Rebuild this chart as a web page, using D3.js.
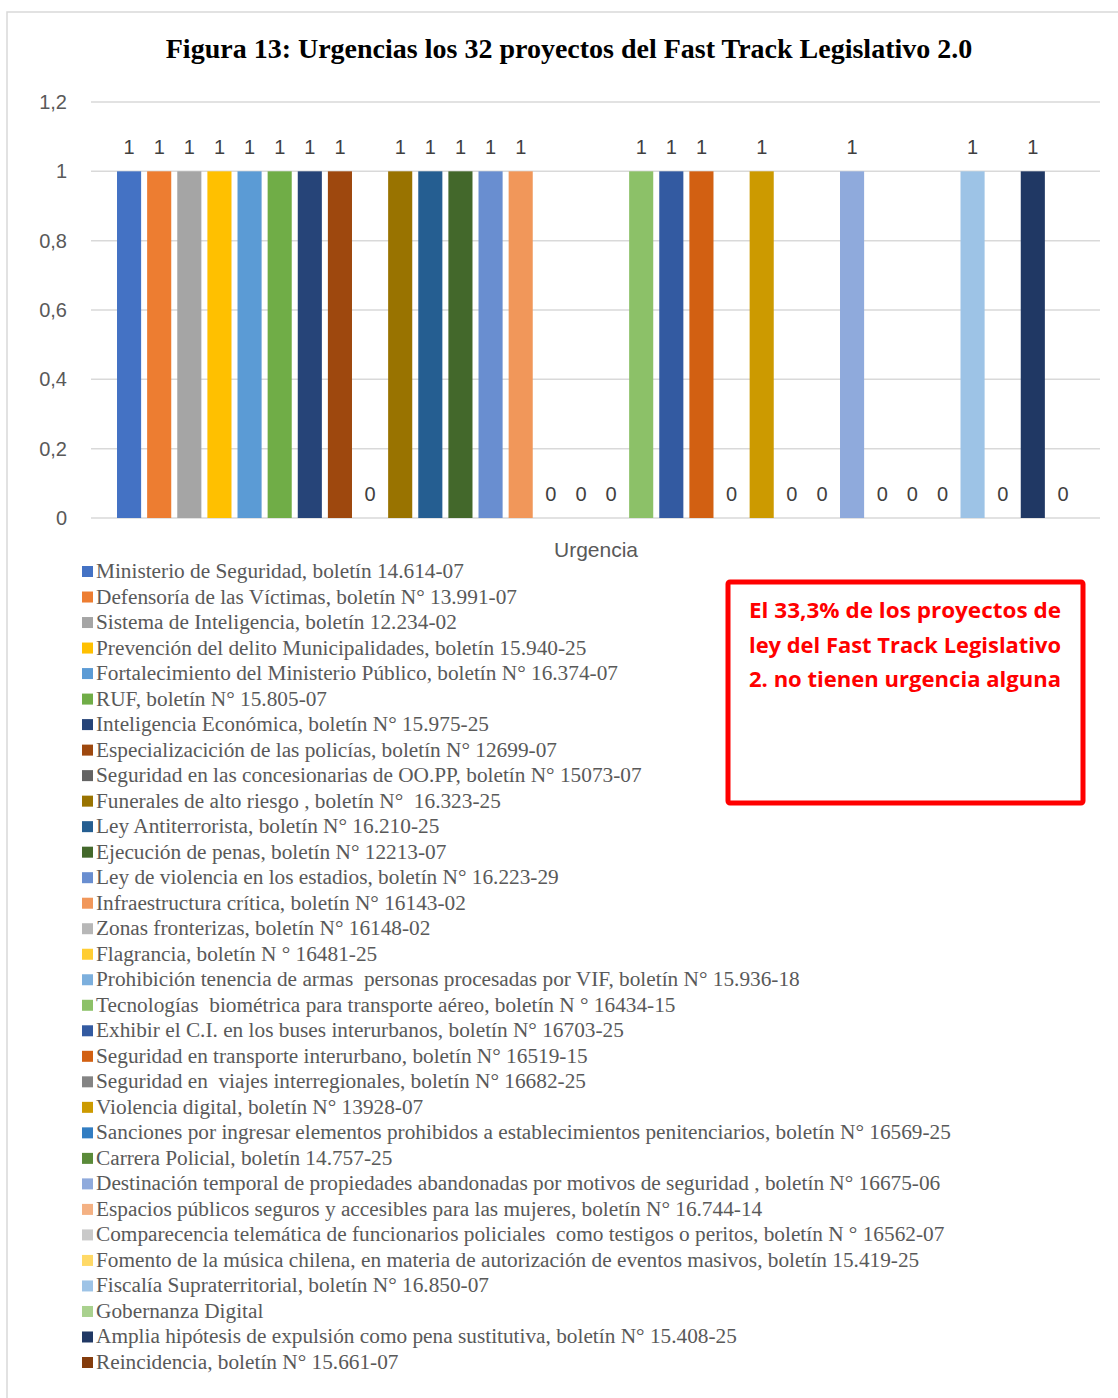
<!DOCTYPE html>
<html>
<head>
<meta charset="utf-8">
<script src="https://cdn.jsdelivr.net/npm/d3@7"></script>
<style>
  body { margin: 0; background: #fff; }
</style>
</head>
<body>
<div id="chart"></div>
<script>
// Chart data
var titleText = "Figura 13: Urgencias los 32 proyectos del Fast Track Legislativo 2.0";
var categoryName = "Urgencia";

var proyectos = [
  "Ministerio de Seguridad, boletín 14.614-07",
  "Defensoría de las Víctimas, boletín N° 13.991-07",
  "Sistema de Inteligencia, boletín 12.234-02",
  "Prevención del delito Municipalidades, boletín 15.940-25",
  "Fortalecimiento del Ministerio Público, boletín N° 16.374-07",
  "RUF, boletín N° 15.805-07",
  "Inteligencia Económica, boletín N° 15.975-25",
  "Especializacición de las policías, boletín N° 12699-07",
  "Seguridad en las concesionarias de OO.PP, boletín N° 15073-07",
  "Funerales de alto riesgo , boletín N°  16.323-25",
  "Ley Antiterrorista, boletín N° 16.210-25",
  "Ejecución de penas, boletín N° 12213-07",
  "Ley de violencia en los estadios, boletín N° 16.223-29",
  "Infraestructura crítica, boletín N° 16143-02",
  "Zonas fronterizas, boletín N° 16148-02",
  "Flagrancia, boletín N ° 16481-25",
  "Prohibición tenencia de armas  personas procesadas por VIF, boletín N° 15.936-18",
  "Tecnologías  biométrica para transporte aéreo, boletín N ° 16434-15",
  "Exhibir el C.I. en los buses interurbanos, boletín N° 16703-25",
  "Seguridad en transporte interurbano, boletín N° 16519-15",
  "Seguridad en  viajes interregionales, boletín N° 16682-25",
  "Violencia digital, boletín N° 13928-07",
  "Sanciones por ingresar elementos prohibidos a establecimientos penitenciarios, boletín N° 16569-25",
  "Carrera Policial, boletín 14.757-25",
  "Destinación temporal de propiedades abandonadas por motivos de seguridad , boletín N° 16675-06",
  "Espacios públicos seguros y accesibles para las mujeres, boletín N° 16.744-14",
  "Comparecencia telemática de funcionarios policiales  como testigos o peritos, boletín N ° 16562-07",
  "Fomento de la música chilena, en materia de autorización de eventos masivos, boletín 15.419-25",
  "Fiscalía Supraterritorial, boletín N° 16.850-07",
  "Gobernanza Digital",
  "Amplia hipótesis de expulsión como pena sustitutiva, boletín N° 15.408-25",
  "Reincidencia, boletín N° 15.661-07"
];

var urgencia = [1, 1, 1, 1, 1, 1, 1, 1, 0, 1, 1, 1, 1, 1, 0, 0,
                0, 1, 1, 1, 0, 1, 0, 0, 1, 0, 0, 0, 1, 0, 1, 0];

var colores = [
  "#4472C4", "#ED7D31", "#A5A5A5", "#FFC000", "#5B9BD5", "#70AD47", "#264478", "#9E480E",
  "#636363", "#997300", "#255E91", "#43682B", "#698ED0", "#F1975A", "#B7B7B7", "#FFCD33",
  "#7CAFDD", "#8CC168", "#335AA1", "#D26012", "#848484", "#CC9A00", "#327DC2", "#5A8A39",
  "#8FAADC", "#F4B183", "#C9C9C9", "#FFD966", "#9DC3E6", "#A9D18E", "#203864", "#843C0C"
];

var yTicks = [0, 0.2, 0.4, 0.6, 0.8, 1, 1.2];

var notaLineas = [
  "El 33,3% de los proyectos de",
  "ley del Fast Track Legislativo",
  "2. no tienen urgencia alguna"
];

// SVG size
var svgWidth = 1118;
var svgHeight = 1398;

var svg = d3.select("#chart")
  .append("svg")
  .attr("width", svgWidth)
  .attr("height", svgHeight);

// outer frame of the chart
svg.append("rect")
  .attr("x", 7)
  .attr("y", 12)
  .attr("width", 1130)
  .attr("height", 1420)
  .attr("fill", "none")
  .attr("stroke", "#d9d9d9")
  .attr("stroke-width", 1.5);

// title
svg.append("text")
  .attr("x", 569)
  .attr("y", 58)
  .attr("text-anchor", "middle")
  .style("font-family", "'Liberation Serif', 'Times New Roman', serif")
  .style("font-weight", "bold")
  .style("font-size", "28px")
  .style("fill", "#000")
  .text(titleText);

// plot area
var plot = { left: 91, right: 1100, top: 102, bottom: 518 };

var yScale = d3.scaleLinear()
  .domain([0, 1.2])
  .range([plot.bottom, plot.top]);

var xScale = d3.scaleBand()
  .domain(d3.range(urgencia.length))
  .range([114, 1078])
  .paddingInner(0.2)
  .paddingOuter(0.1);

// gridlines
svg.append("g")
  .selectAll("line")
  .data(yTicks)
  .enter()
  .append("line")
  .attr("x1", plot.left)
  .attr("x2", plot.right)
  .attr("y1", d => yScale(d))
  .attr("y2", d => yScale(d))
  .attr("stroke", "#d9d9d9")
  .attr("stroke-width", 1.5);

// y axis labels
var yAxis = d3.axisLeft(yScale)
  .tickValues(yTicks)
  .tickSize(0)
  .tickPadding(0)
  .tickFormat(d => String(d).replace(".", ","));

var yAxisGroup = svg.append("g")
  .attr("transform", "translate(67,0)")
  .call(yAxis);

yAxisGroup.select(".domain").remove();
yAxisGroup.selectAll("text")
  .style("font-family", "'Liberation Sans', Arial, sans-serif")
  .style("font-size", "20px")
  .style("fill", "#595959");

// bars
svg.append("g")
  .selectAll("rect")
  .data(urgencia)
  .enter()
  .append("rect")
  .attr("x", (d, i) => xScale(i))
  .attr("y", d => yScale(d))
  .attr("width", xScale.bandwidth())
  .attr("height", d => plot.bottom - yScale(d))
  .attr("fill", (d, i) => colores[i]);

// value labels
svg.append("g")
  .selectAll("text")
  .data(urgencia)
  .enter()
  .append("text")
  .attr("x", (d, i) => xScale(i) + xScale.bandwidth() / 2)
  .attr("y", d => yScale(d) - 17)
  .attr("text-anchor", "middle")
  .style("font-family", "'Liberation Sans', Arial, sans-serif")
  .style("font-size", "20px")
  .style("fill", "#404040")
  .text(d => d);

// category label
svg.append("text")
  .attr("x", 596)
  .attr("y", 557)
  .attr("text-anchor", "middle")
  .style("font-family", "'Liberation Sans', Arial, sans-serif")
  .style("font-size", "21px")
  .style("fill", "#595959")
  .text(categoryName);

// legend
var legendY = d3.scaleLinear()
  .domain([0, proyectos.length - 1])
  .range([571, 1362]);

var legend = svg.append("g")
  .selectAll("g")
  .data(proyectos)
  .enter()
  .append("g")
  .attr("transform", (d, i) => `translate(0, ${legendY(i)})`);

legend.append("rect")
  .attr("x", 82)
  .attr("y", -5)
  .attr("width", 11)
  .attr("height", 11)
  .attr("fill", (d, i) => colores[i]);

legend.append("text")
  .attr("x", 96)
  .attr("y", 7)
  .style("font-family", "'Liberation Serif', 'Times New Roman', serif")
  .style("font-size", "21.3px")
  .style("fill", "#595959")
  .style("white-space", "pre")
  .text(d => d);

// red note box
svg.append("rect")
  .attr("x", 728)
  .attr("y", 582)
  .attr("width", 355)
  .attr("height", 221)
  .attr("rx", 2)
  .attr("fill", "#fff")
  .attr("stroke", "#ff0000")
  .attr("stroke-width", 5);

svg.append("g")
  .selectAll("text")
  .data(notaLineas)
  .enter()
  .append("text")
  .attr("x", 749)
  .attr("y", (d, i) => 618 + i * 34.5)
  .attr("textLength", 312)
  .attr("lengthAdjust", "spacingAndGlyphs")
  .style("font-family", "'Open Sans', 'Liberation Sans', sans-serif")
  .style("font-weight", "bold")
  .style("font-size", "22px")
  .style("fill", "#ff0000")
  .text(d => d);
</script>
</body>
</html>
